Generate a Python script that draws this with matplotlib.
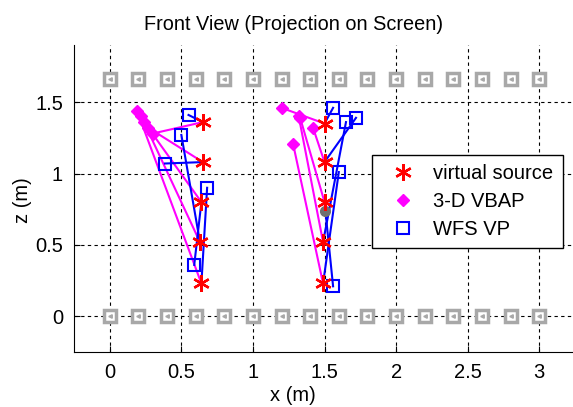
import numpy as np
import matplotlib.pyplot as plt
from matplotlib.lines import Line2D

plt.rcParams['font.family'] = ['Liberation Sans', 'DejaVu Sans']

# loudspeaker rows
spk_x = [0.0, 0.2, 0.4, 0.6, 0.8, 1.0, 1.2, 1.4, 1.6, 1.8, 2.0, 2.2, 2.4, 2.6, 2.8, 3.0]
spk_z_top = 1.66
spk_z_bot = 0.0

# virtual sources, bottom to top
src_l_x = [0.64, 0.63, 0.64, 0.65, 0.65]
src_l_z = [0.23, 0.52, 0.80, 1.08, 1.36]
src_r_x = [1.49, 1.49, 1.50, 1.50, 1.50]
src_r_z = [0.23, 0.52, 0.80, 1.08, 1.35]

# 3-D VBAP perceived positions (same order as sources)
vbap_l_x = [0.19, 0.22, 0.24, 0.27, 0.30]
vbap_l_z = [1.44, 1.40, 1.36, 1.32, 1.28]
vbap_r_x = [1.28, 1.32, 1.33, 1.42, 1.20]
vbap_r_z = [1.21, 1.40, 1.39, 1.32, 1.46]

# WFS VP perceived positions
wfs_l_x = [0.68, 0.50, 0.59, 0.385, 0.55]
wfs_l_z = [0.90, 1.27, 0.36, 1.07, 1.41]
wfs_r_x = [1.60, 1.65, 1.56, 1.72, 1.56]
wfs_r_z = [1.01, 1.36, 0.21, 1.39, 1.46]

# listener reference point
ref_x = [1.50]
ref_z = [0.74]

fig = plt.figure(figsize=(5.73, 4.07), dpi=100)
ax = fig.add_axes([74/573, 55/407, 501/573, 307/407])

grey = '#a8a8a8'
ax.plot(spk_x, [spk_z_top]*len(spk_x), 's', ms=8, mfc='white', mec=grey, mew=2.5, zorder=2)
ax.plot(spk_x, [spk_z_bot]*len(spk_x), 's', ms=8, mfc='white', mec=grey, mew=2.5, zorder=2)
ax.plot(spk_x, [spk_z_top]*len(spk_x), '<', ms=2.5, color=grey, zorder=2)
ax.plot(spk_x, [spk_z_bot]*len(spk_x), '<', ms=2.5, color=grey, zorder=2)

for sx, sz, vx, vz in [(src_l_x, src_l_z, vbap_l_x, vbap_l_z), (src_r_x, src_r_z, vbap_r_x, vbap_r_z)]:
    for i in range(len(sx)):
        ax.plot([vx[i], sx[i]], [vz[i], sz[i]], '-', color='magenta', lw=1.5, zorder=3)
    ax.plot(vx, vz, 'D', ms=6.5, color='magenta', zorder=3)

for sx, sz, wx, wz in [(src_l_x, src_l_z, wfs_l_x, wfs_l_z), (src_r_x, src_r_z, wfs_r_x, wfs_r_z)]:
    for i in range(len(sx)):
        ax.plot([wx[i], sx[i]], [wz[i], sz[i]], '-', color='blue', lw=1.5, zorder=4)
    ax.plot(wx, wz, 's', ms=8, mfc='none', mec='blue', mew=1.5, zorder=4)

ax.plot(ref_x, ref_z, 'o', ms=7, color='#707070', zorder=5)

ax.plot(src_l_x, src_l_z, marker=(6, 2, 0), ls='none', ms=12, mec='red', mew=1.7, zorder=6)
ax.plot(src_r_x, src_r_z, marker=(6, 2, 0), ls='none', ms=12, mec='red', mew=1.7, zorder=6)

ax.set_xlim(-0.25, 3.25)
ax.set_ylim(-0.25, 1.9)
ax.set_xticks([0, 0.5, 1, 1.5, 2, 2.5, 3])
ax.set_xticklabels(['0', '0.5', '1', '1.5', '2', '2.5', '3'])
ax.set_yticks([0, 0.5, 1, 1.5])
ax.set_yticklabels(['0', '0.5', '1', '1.5'])
ax.tick_params(direction='in', labelsize=14.5, length=4, pad=8)
ax.grid(True, color='black', ls=(0, (3, 3)), lw=0.8)
ax.set_axisbelow(True)
ax.spines['top'].set_visible(False)
ax.spines['right'].set_visible(False)

ax.set_title('Front View (Projection on Screen)', fontsize=14.3, x=0.439, pad=11)
ax.set_xlabel('x (m)', fontsize=14.5)
ax.xaxis.set_label_coords(0.437, -0.112)
ax.set_ylabel('z (m)', fontsize=14.5)
ax.yaxis.set_label_coords(-0.084, 0.495)

handles = [
    Line2D([], [], marker=(6, 2, 0), ls='none', ms=12, mec='red', mew=1.7),
    Line2D([], [], marker='D', ls='none', ms=6.5, color='magenta'),
    Line2D([], [], marker='s', ls='none', ms=8, mfc='none', mec='blue', mew=1.5),
]
leg = ax.legend(handles, ['virtual source', '3-D VBAP', 'WFS VP'], loc='upper left',
                bbox_to_anchor=(372/573, 1 - 155/407), bbox_transform=fig.transFigure,
                borderaxespad=0, fontsize=14.5, fancybox=False, framealpha=1, edgecolor='black',
                borderpad=0.45, labelspacing=0.45, handletextpad=0.4, handlelength=2.2)
leg.get_frame().set_linewidth(1.0)

fig.savefig('out.png', dpi=100)
